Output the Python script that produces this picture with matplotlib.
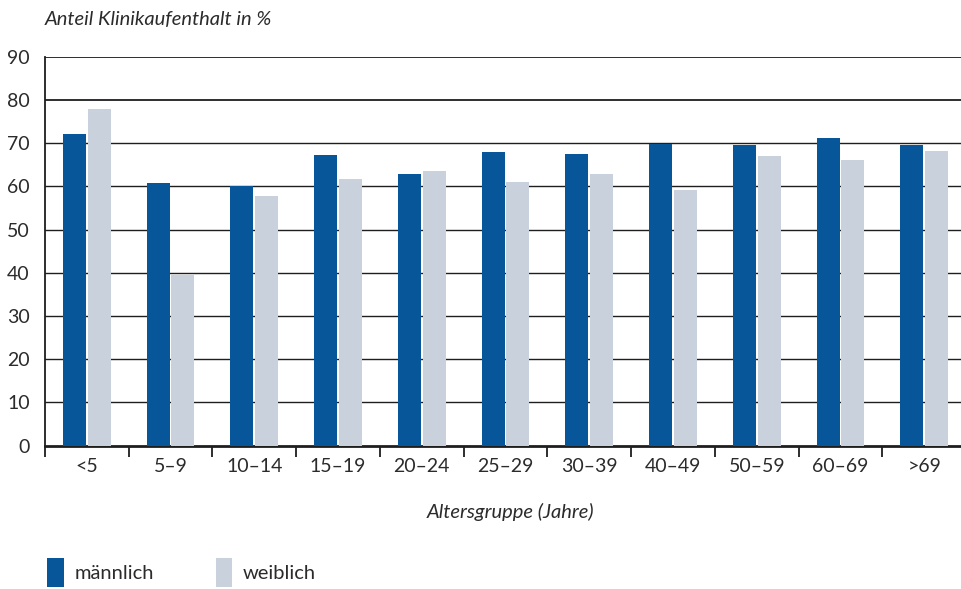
import matplotlib.pyplot as plt
import numpy as np

# Anteil Klinikaufenthalt nach Altersgruppe und Geschlecht
age_groups = ['<5', '5–9', '10–14', '15–19', '20–24', '25–29',
              '30–39', '40–49', '50–59', '60–69', '>69']
maennlich = [72.0, 60.8, 60.1, 67.3, 62.9, 68.0, 67.4, 69.7, 69.6, 71.2, 69.5]
weiblich = [77.8, 39.4, 57.8, 61.7, 63.6, 60.9, 62.9, 59.1, 67.0, 66.0, 68.2]

col_m = '#08569a'
col_w = '#c9d1dc'
text_col = '#2b2b2b'

plt.rcParams['font.family'] = ['Lato', 'DejaVu Sans']

fig = plt.figure(figsize=(9.61, 5.89), dpi=100)
ax = fig.add_axes([0.0468, 0.2436, 0.955, 0.6601])

x = np.arange(len(age_groups))
w = 0.275
off = 0.148
bm = ax.bar(x - off, maennlich, width=w, color=col_m, zorder=3, label='männlich')
bw = ax.bar(x + off, weiblich, width=w, color=col_w, zorder=3, label='weiblich')

ax.set_xlim(-0.5, 10.46)
ax.set_ylim(0, 90)
ax.set_yticks(np.arange(0, 91, 10))
for v in range(10, 91, 10):
    ax.axhline(v, color='#1e1e1e', lw=1.3 if v >= 80 else 1.0, zorder=1)

ax.set_xticks(x)
ax.set_xticklabels(age_groups)
ax.set_xticks(np.arange(-0.5, 10.5, 1), minor=True)
ax.tick_params(axis='x', which='major', length=0, pad=9, labelsize=14, colors=text_col)
ax.tick_params(axis='x', which='minor', length=8, width=1.3, color='#1e1e1e', direction='out')
ax.tick_params(axis='y', length=0, pad=11, labelsize=14, colors=text_col)

for s in ['top', 'right']:
    ax.spines[s].set_visible(False)
ax.spines['left'].set_linewidth(1.3)
ax.spines['left'].set_color('#1e1e1e')
ax.spines['bottom'].set_linewidth(2)
ax.spines['bottom'].set_color('#1e1e1e')

fig.text(0.0468, 0.967, 'Anteil Klinikaufenthalt in %', style='italic',
         fontsize=14.5, color=text_col, ha='left', va='center')
fig.text(0.531, 0.131, 'Altersgruppe (Jahre)', style='italic',
         fontsize=14.5, color=text_col, ha='center', va='center')

fig.legend(handles=[bm, bw], loc='lower left', bbox_to_anchor=(0.041, -0.011),
           ncol=2, frameon=False, fontsize=14.5, labelcolor=text_col,
           handlelength=0.8, handleheight=1.85, handletextpad=0.55,
           columnspacing=3.05, borderaxespad=0)

fig.savefig('out.png', dpi=100)
plt.close(fig)
